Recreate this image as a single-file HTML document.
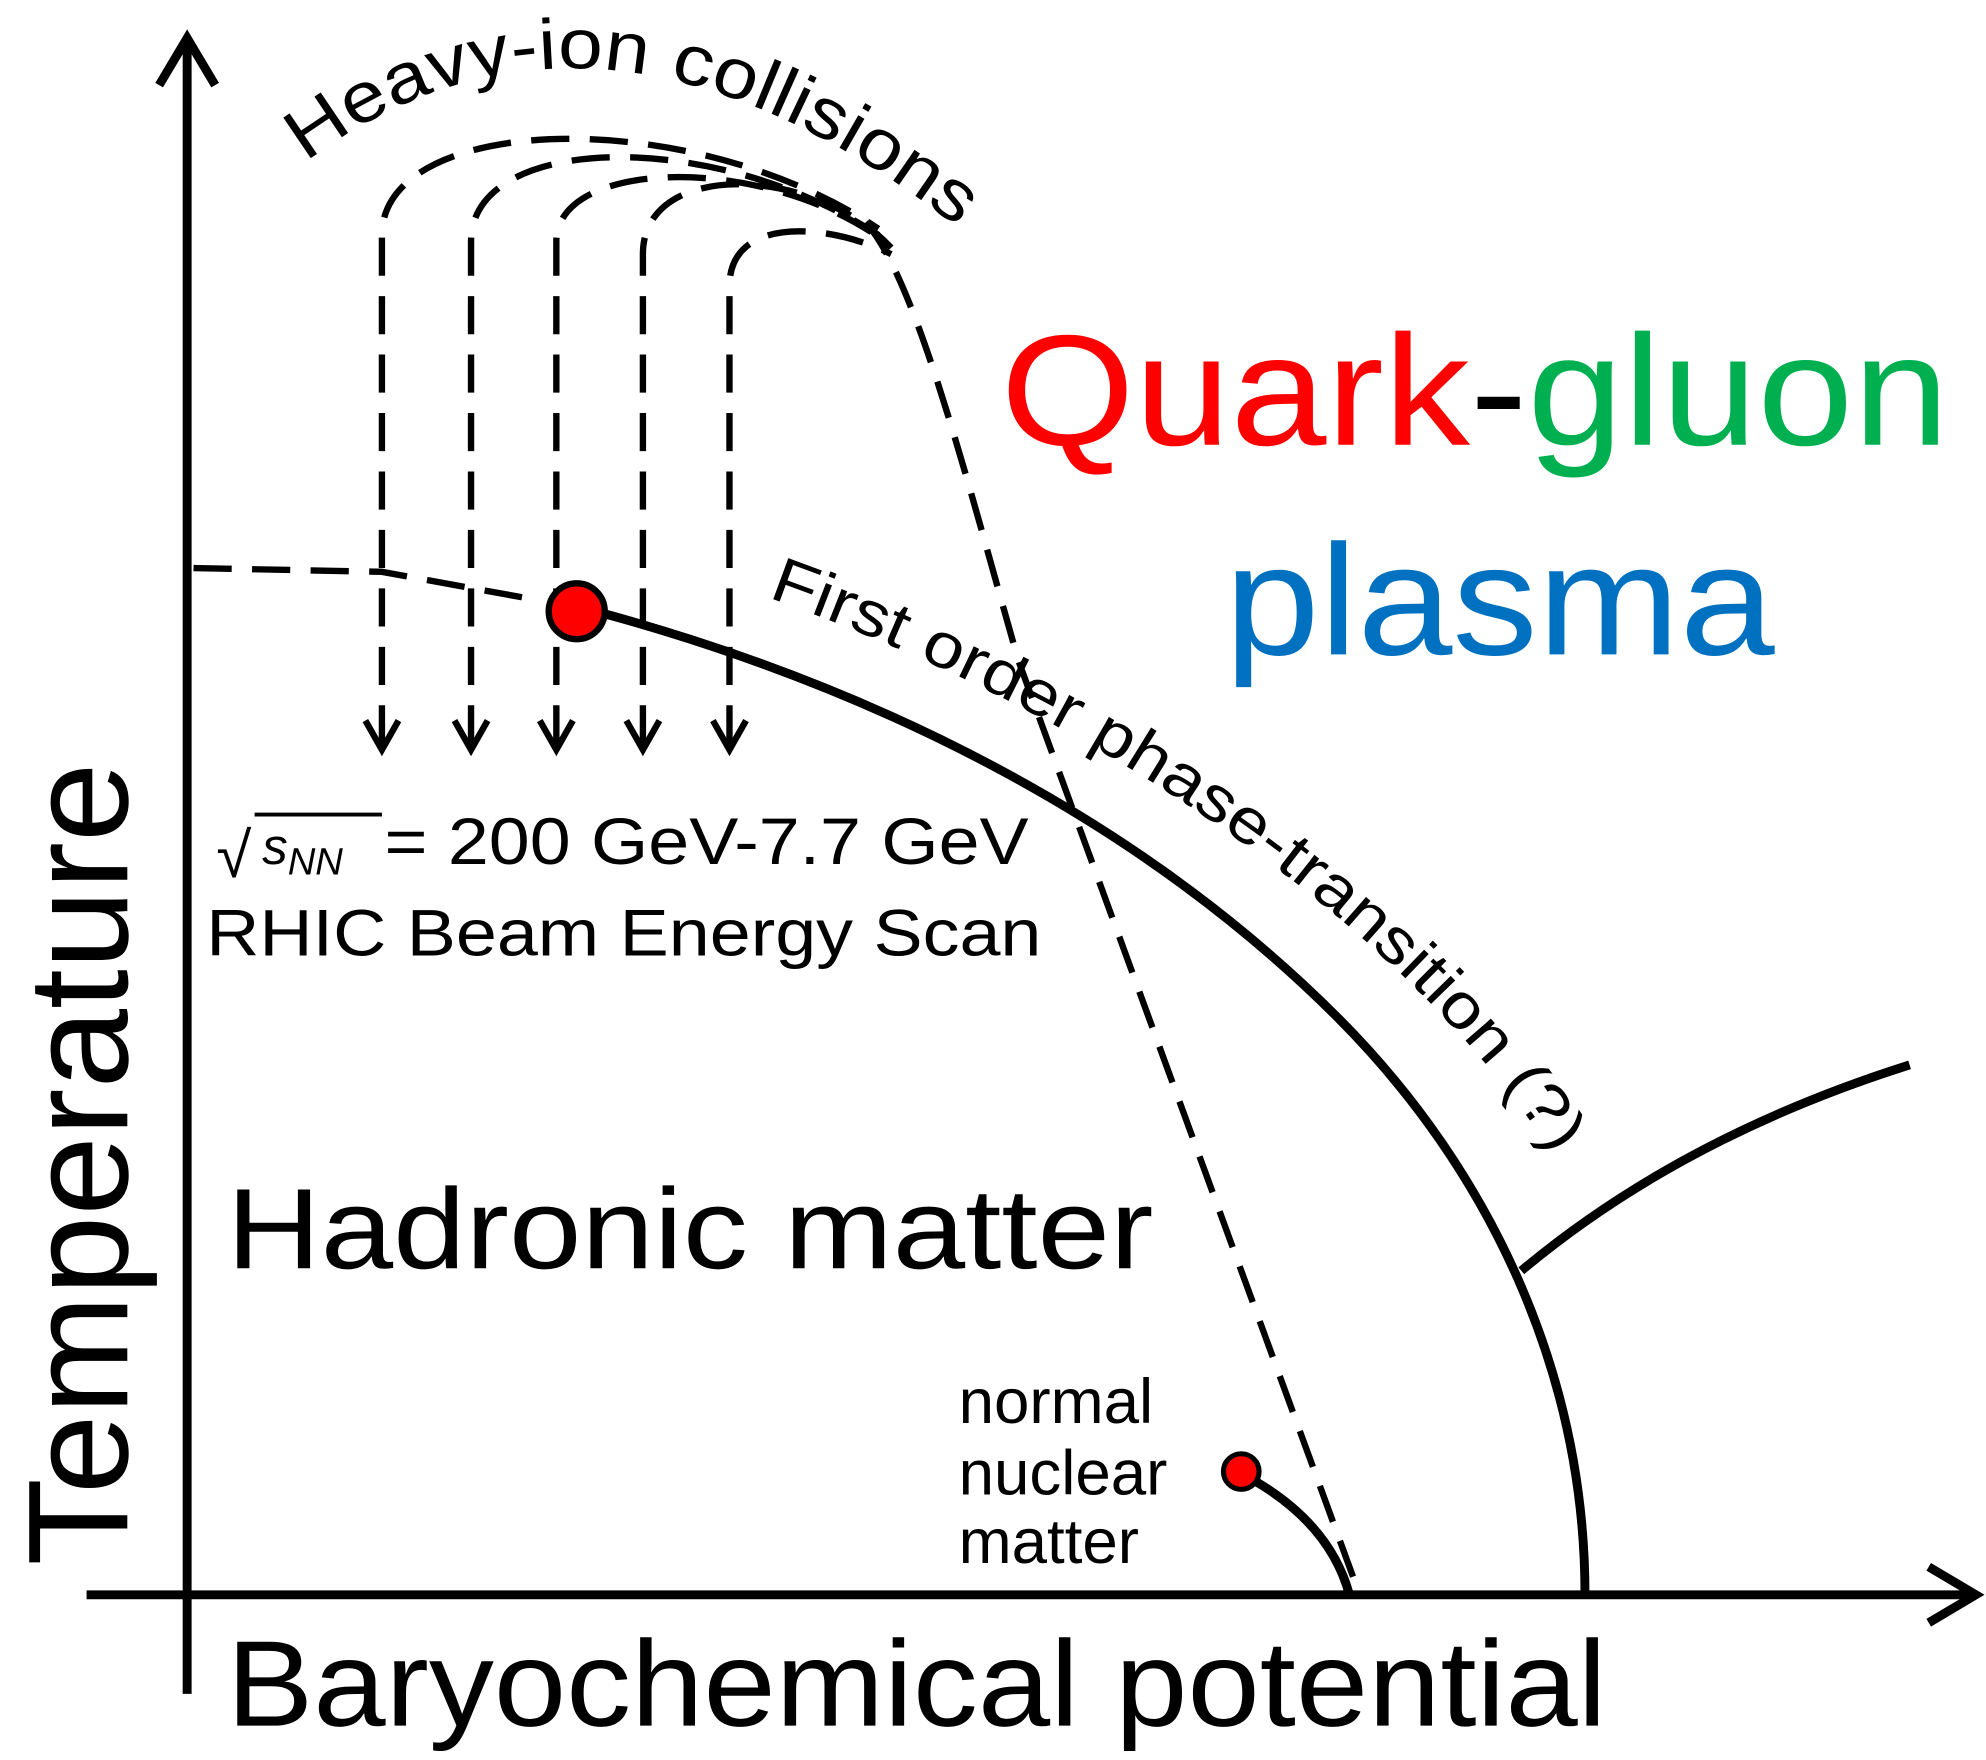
<!DOCTYPE html>
<html><head><meta charset="utf-8"><style>
html,body{margin:0;padding:0;background:#fff;}
svg{display:block;}
text{font-family:"Liberation Sans",Arial,sans-serif;}
</style></head><body>
<svg width="1986" height="1760" viewBox="0 0 1560 1385" preserveAspectRatio="none" xmlns="http://www.w3.org/2000/svg">
<rect width="1560" height="1385" fill="#fff"/>
<g stroke="#000" stroke-width="7" fill="none" stroke-linecap="butt">
  <line x1="147" y1="1333" x2="147" y2="30"/>
  <polyline points="125,67 147,30 169,67"/>
  <line x1="68" y1="1255" x2="1550" y2="1255"/>
  <polyline points="1515,1233 1552,1255 1515,1277"/>
  <path d="M475,483 C700,545 900,650 1050,800 C1170,920 1245,1080 1245,1255"/>
  <path d="M1195,1000 Q1320,895 1500,838"/>
  <path d="M985,1165 Q1045,1200 1060,1255"/>
</g>
<g stroke="#000" stroke-width="5" fill="none" stroke-dasharray="30,16">
  <path d="M152,447 L300,450 L410,470"/>
  <path d="M300,585 V185 C300,90 540,80 690,180"/>
  <path d="M370,585 V190 C370,105 560,100 690,185"/>
  <path d="M437,585 V190 C437,125 600,120 695,190"/>
  <path d="M505,585 V200 C505,125 640,130 700,195"/>
  <path d="M573,585 V225 C573,170 650,175 700,200"/>
  <path d="M680,175 C720,220 760,380 800,520 L1068,1255"/>
</g>
<g stroke="#000" stroke-width="5" fill="none">
  <polyline points="287,567 300,590 313,567"/>
  <polyline points="357,567 370,590 383,567"/>
  <polyline points="424,567 437,590 450,567"/>
  <polyline points="492,567 505,590 518,567"/>
  <polyline points="560,567 573,590 586,567"/>
</g>
<circle cx="453" cy="481" r="22" fill="#f00" stroke="#000" stroke-width="5"/>
<circle cx="975" cy="1158" r="14" fill="#f00" stroke="#000" stroke-width="4"/>
<defs>
  <path id="hp" d="M240,128 Q470,-45 760,185"/>
  <path id="fp" d="M603,470 C870,565 1120,735 1240,940"/>
</defs>
<text font-size="56"><textPath href="#hp" textLength="560" lengthAdjust="spacingAndGlyphs">Heavy-ion collisions</textPath></text>
<text font-size="50"><textPath href="#fp" textLength="770" lengthAdjust="spacingAndGlyphs">First order phase-transition (?)</textPath></text>
<text x="786" y="350" font-size="124" textLength="745" lengthAdjust="spacingAndGlyphs"><tspan fill="#f00">Quark</tspan><tspan fill="#000">-</tspan><tspan fill="#00b050">gluon</tspan></text>
<text x="962" y="515" font-size="124" fill="#0070c0" textLength="432" lengthAdjust="spacingAndGlyphs">plasma</text>
<text x="178" y="998" font-size="90" textLength="728" lengthAdjust="spacingAndGlyphs">Hadronic matter</text>
<text x="178" y="1358" font-size="96" textLength="1084" lengthAdjust="spacingAndGlyphs">Baryochemical potential</text>
<text transform="translate(100,1232) rotate(-90)" font-size="112" textLength="632" lengthAdjust="spacingAndGlyphs">Temperature</text>
<text x="170" y="690" font-size="50" font-family="Liberation Serif,serif">√</text>
<line x1="200" y1="641" x2="300" y2="641" stroke="#000" stroke-width="3"/>
<text x="206" y="680" font-size="40" font-style="italic" font-family="Liberation Serif,serif">s<tspan font-size="30" dy="8">NN</tspan></text>
<text x="302" y="680" font-size="52" textLength="506" lengthAdjust="spacingAndGlyphs">= 200 GeV-7.7 GeV</text>
<text x="162" y="752" font-size="52" textLength="656" lengthAdjust="spacingAndGlyphs">RHIC Beam Energy Scan</text>
<text x="753" y="1120" font-size="50">normal</text>
<text x="753" y="1176" font-size="50">nuclear</text>
<text x="753" y="1230" font-size="50">matter</text>
</svg>
</body></html>
